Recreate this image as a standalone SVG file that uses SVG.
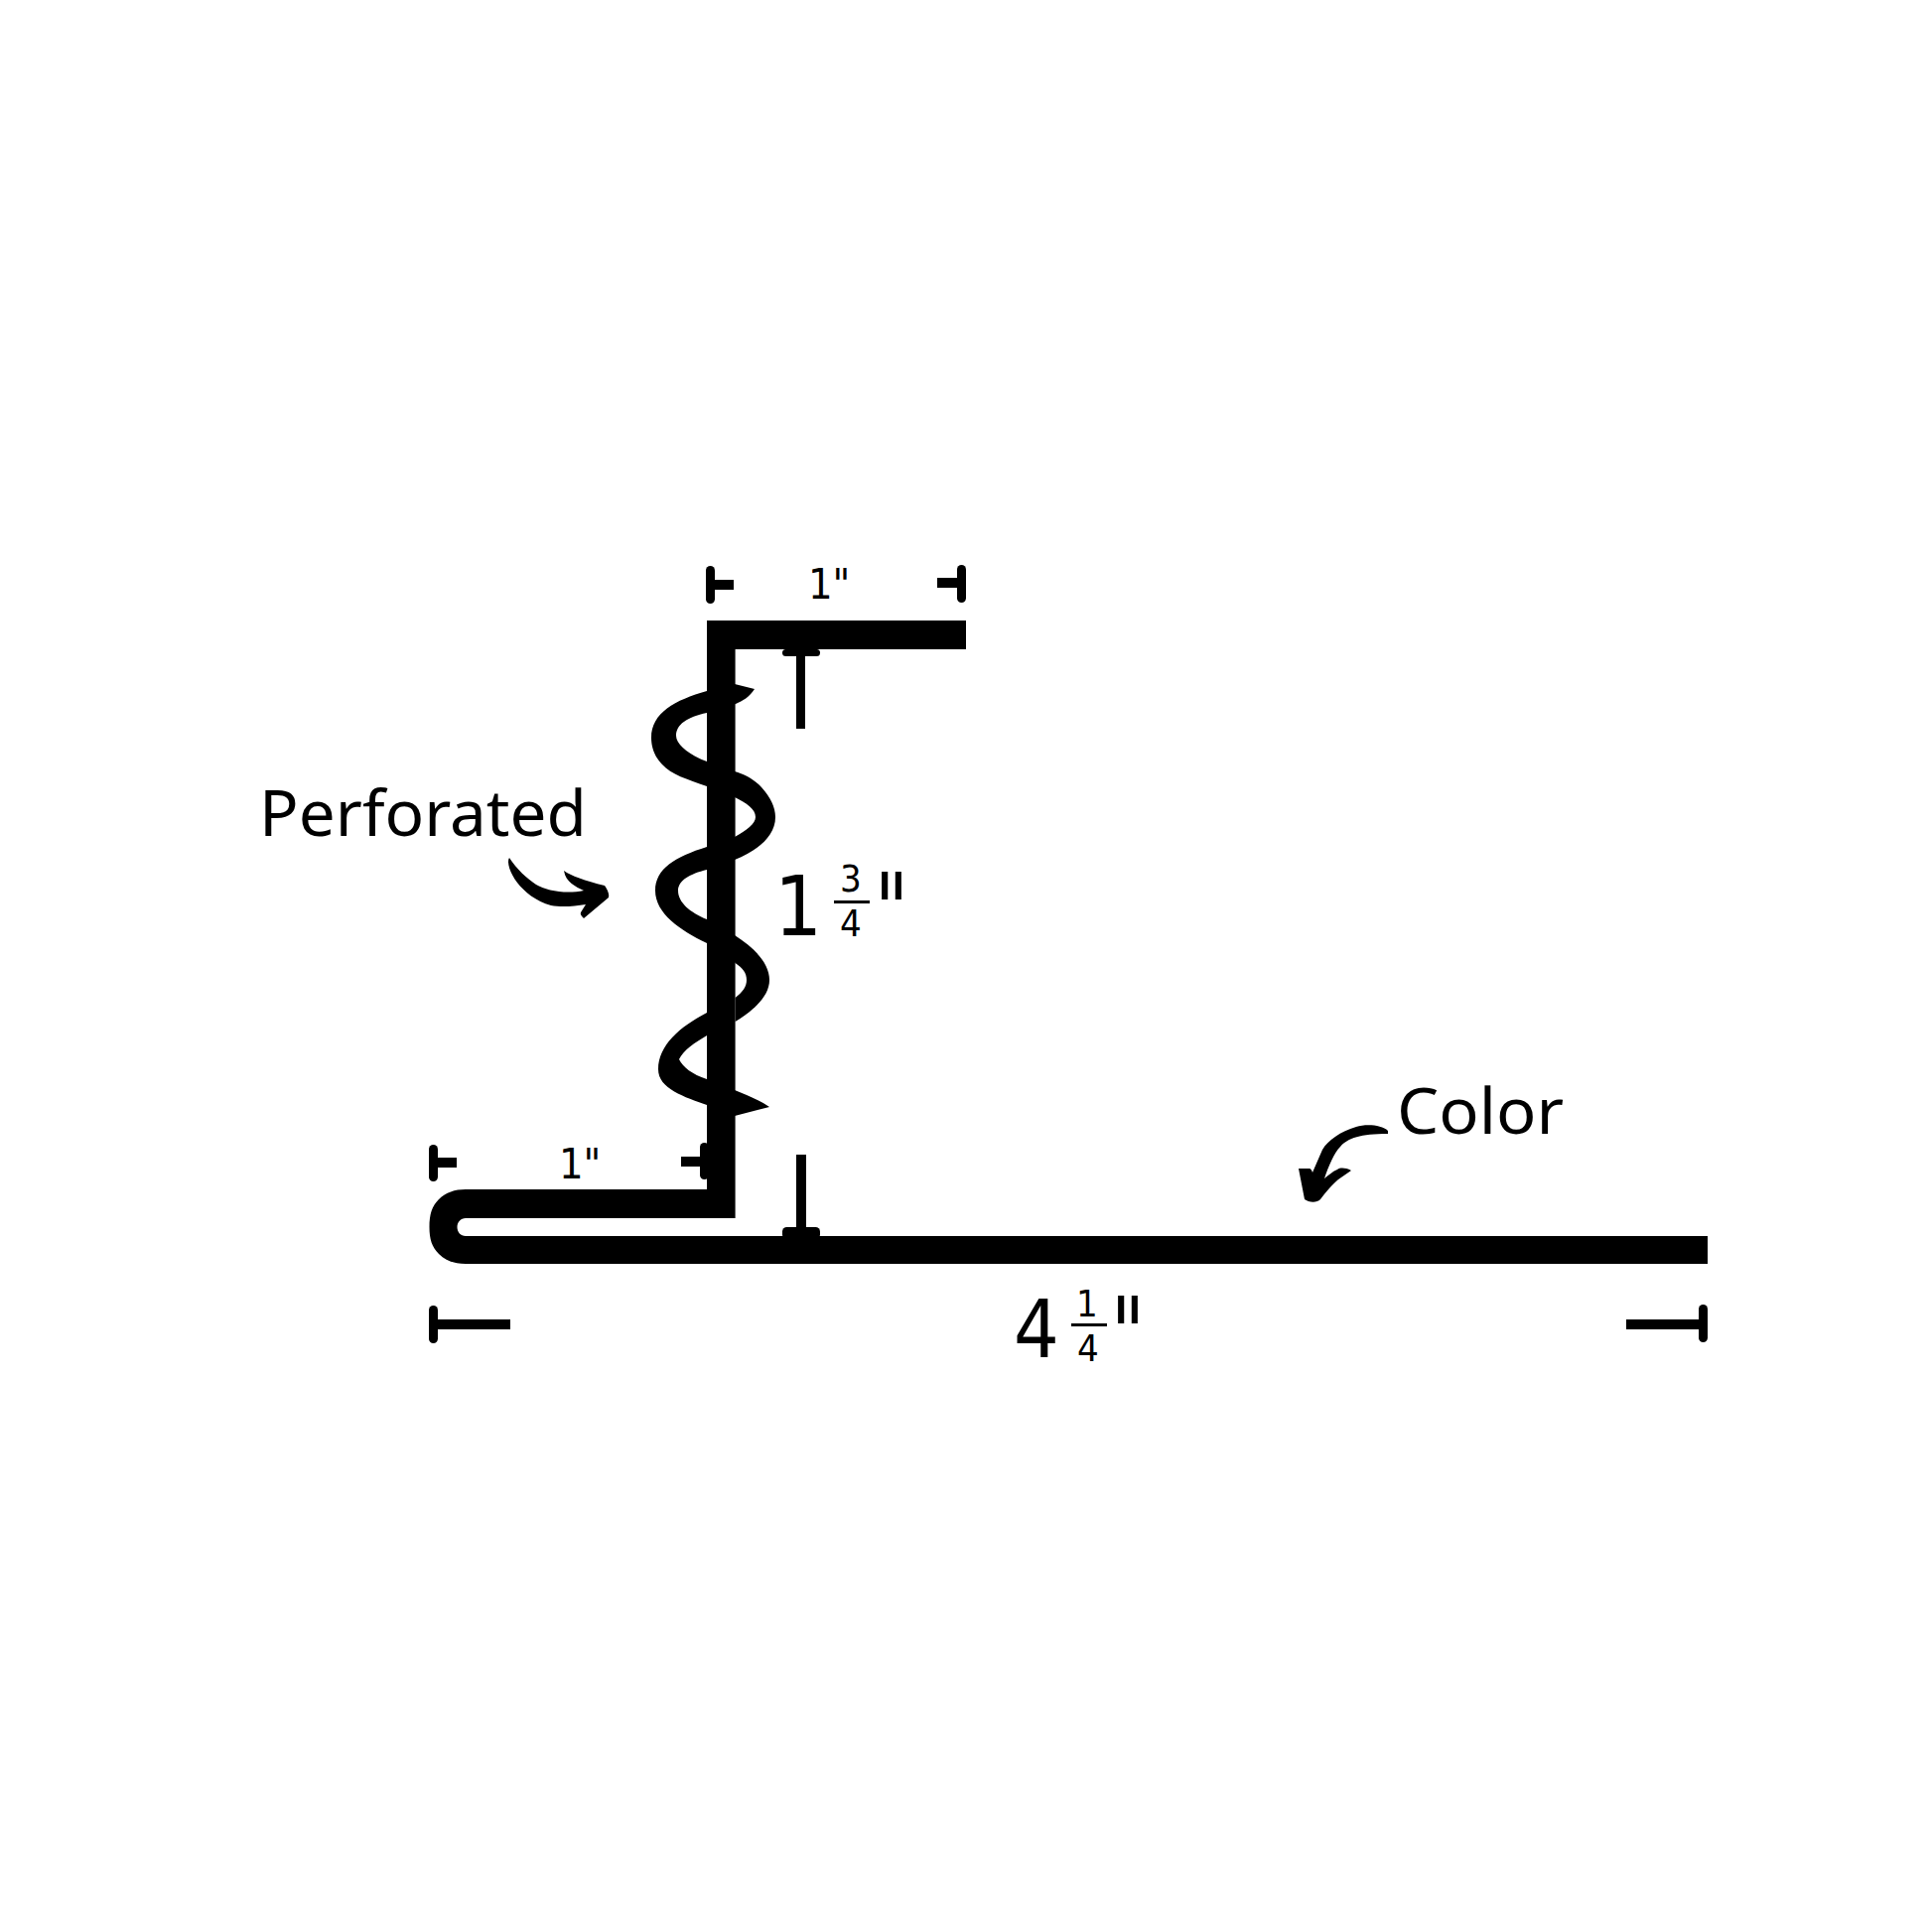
<svg xmlns="http://www.w3.org/2000/svg" width="1946" height="1946" viewBox="0 0 1946 1946">
<style>
.w{font-family:"Noto Sans","Liberation Sans",sans-serif;font-weight:400;font-size:63px;fill:#000}
.d{font-family:"DejaVu Sans Condensed","DejaVu Sans",sans-serif;fill:#000}
.b{fill:#000}
</style>
<rect width="1946" height="1946" fill="#fff"/>
<g id="spiral" class="b">
<path d="M712,696L740,689L760,694C755,702 748,706 741,709L712,718C692,722 681,730 681,741C681,750 695,761 712,767L712,792C692,785 676,780 667,770C659,762 656,752 656,743C656,718 680,705 712,696Z"/>
<path d="M740,777C750,780 760,785 767,793C776,803 781,813 781,823C781,843 762,857 740,866L740,843C752,836 761,830 761,823C761,815 752,809 740,803Z"/>
<path d="M712,853C680,863 660,875 660,897C660,920 685,937 712,950L740,942C760,955 775,970 775,987C775,1003 760,1017 740.6,1029L740.6,1005C748,999 752,994 752,987C752,980 748,975 740.6,970L712,926C695,919 683,909 683,897C683,887 695,880 712,876Z"/>
<path d="M712,1020C685,1034 663,1053 663,1077C663,1097 690,1105 712,1113L712,1087C697,1082 688,1075 684,1067C688,1058 700,1050 712,1043Z"/>
<path d="M740,1098C752,1103 765,1108 775,1115L740,1124Z"/>
</g>
<g id="profile" class="b">
<path d="M712,625H973V654H740.6V1227H469C464,1227 460.5,1231 460.5,1236C460.5,1241 464,1245 469,1245H1720V1273H469C458,1273 449,1270 442,1263C435,1256 432.5,1248 432.5,1236C432.5,1223 435,1215 442,1208C449,1201 458,1198 469,1198H712Z"/>
</g>
<g id="ticks" class="b">
<rect x="711" y="570" width="9" height="38" rx="4.5"/><rect x="715" y="584" width="24" height="10"/>
<rect x="964" y="569" width="9" height="38" rx="4.5"/><rect x="944" y="582" width="24" height="10"/>
<rect x="788" y="654" width="38" height="7" rx="3.5"/><rect x="802" y="654" width="9" height="80"/>
<rect x="432" y="1153" width="9" height="37" rx="4.5"/><rect x="436" y="1166" width="24" height="10"/>
<rect x="705" y="1151" width="9" height="37" rx="4.5"/><rect x="686" y="1165" width="26" height="10"/>
<rect x="802" y="1163" width="10" height="78"/><rect x="788" y="1236" width="38" height="12" rx="4.5"/>
<rect x="432" y="1315" width="9" height="38" rx="4.5"/><rect x="436" y="1329" width="78" height="10"/>
<rect x="1711" y="1314" width="9" height="38" rx="4.5"/><rect x="1638" y="1329" width="78" height="10"/>
<rect x="840" y="907" width="36" height="3"/>
<rect x="1079" y="1333" width="36" height="3"/>
</g>
<g id="arrows" class="b">
<path d="M513,864C520,875 531,885 540,891C550,897 570,901 588,897C580,893 570,889 568,877C575,882 589,887 609,892C612,896 614,901 613,904L588,925C586,923 584,921 585,919L590,911C578,913 565,914 555,912C540,908 528,898 521,889C514,880 510,868 513,864Z"/>
<path d="M1406,1143C1400,1137 1384,1136 1374,1139C1358,1144 1346,1152 1340,1162L1330,1185C1329,1182 1328,1181 1327,1181L1316,1181L1322,1212C1326,1215 1334,1216 1338,1212C1344,1204 1351,1196 1356,1192L1369,1183C1363,1180 1358,1180 1355,1182C1350,1184 1346,1188 1342,1191C1346,1179 1352,1165 1358,1159C1366,1150 1378,1146 1406,1146Z" transform="translate(-8,-4)"/>
</g>
<g id="labels">
<text class="w" x="261" y="842" textLength="330" lengthAdjust="spacingAndGlyphs">Perforated</text>
<text class="w" x="1407" y="1142" textLength="168" lengthAdjust="spacingAndGlyphs">Color</text>
<text class="d" x="814" y="603" font-size="43">1"</text>
<text class="d" x="563" y="1187" font-size="43">1"</text>
<text class="d" x="780" y="942" font-size="84">1</text>
<text class="d" x="846" y="898" font-size="38">3</text>
<text class="d" x="846" y="943" font-size="38">4</text>
<text class="d" x="881" y="953" font-size="104" textLength="34" lengthAdjust="spacingAndGlyphs">"</text>
<text class="d" x="1021" y="1367" font-size="80">4</text>
<text class="d" x="1084" y="1326" font-size="38">1</text>
<text class="d" x="1085" y="1371" font-size="38">4</text>
<text class="d" x="1119" y="1380" font-size="104" textLength="34" lengthAdjust="spacingAndGlyphs">"</text>
</g>
</svg>
